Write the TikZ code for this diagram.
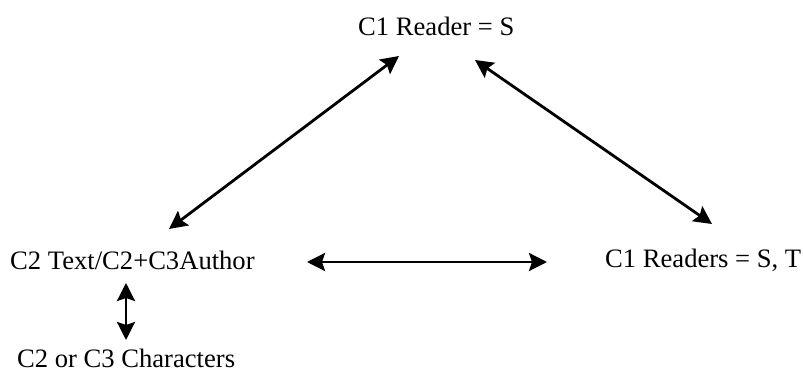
\documentclass[tikz,border=0pt]{standalone}
\usepackage{fontspec}
\setmainfont{Liberation Serif}
\usetikzlibrary{arrows.meta}
\begin{document}
\begin{tikzpicture}[x=1pt,y=1pt,
  lbl/.style={anchor=base west,inner sep=0pt,font=\fontsize{26.6}{30}\selectfont},
  dbl/.style={line width=2.8pt,{Stealth[length=18pt,width=18pt,inset=3pt]}-{Stealth[length=18pt,width=18pt,inset=3pt]}}]
\useasboundingbox (0,0) rectangle (803,372);
\node[lbl] (r1) at (358,336) {C1 Reader = S};
\node[lbl] (c2) at (10,102) {C2 Text/C2+C3Author};
\node[lbl] (ch) at (17,5) {C2 or C3 Characters};
\node[lbl] (rs) at (605,104) {C1 Readers = S, T};
\coordinate (a1) at (169,143);
\coordinate (a2) at (399,316);
\coordinate (b1) at (475,312);
\coordinate (b2) at (712,148);
\coordinate (h1) at (307,110);
\coordinate (h2) at (547,110);
\coordinate (v1) at (126,89);
\coordinate (v2) at (126,32);
\draw[dbl] (a1) -- (a2);
\draw[dbl] (b1) -- (b2);
\draw[dbl] (h1) -- (h2);
\draw[dbl] (v1) -- (v2);
\end{tikzpicture}
\end{document}
